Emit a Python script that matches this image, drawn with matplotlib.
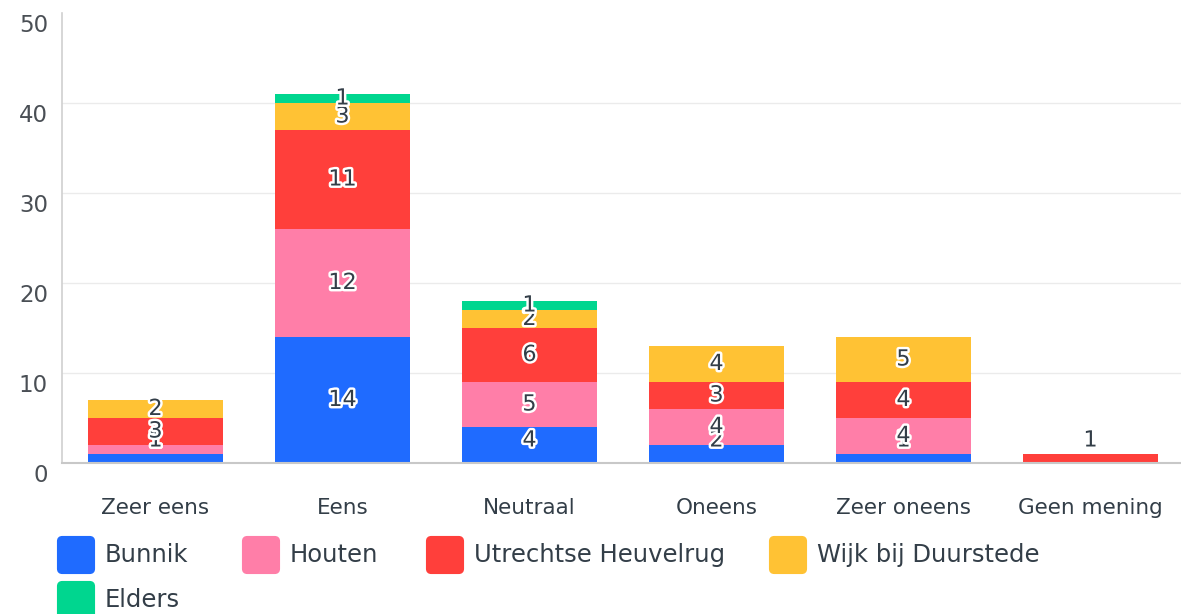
import matplotlib
matplotlib.use("Agg")
import matplotlib.pyplot as plt
import matplotlib.patheffects as pe
from matplotlib.patches import FancyBboxPatch
import numpy as np

categories = ["Zeer eens", "Eens", "Neutraal", "Oneens", "Zeer oneens", "Geen mening"]
series_names = ["Bunnik", "Houten", "Utrechtse Heuvelrug", "Wijk bij Duurstede", "Elders"]
bunnik = [1, 14, 4, 2, 1, 0]
houten = [1, 12, 5, 4, 4, 0]
utrechtse = [3, 11, 6, 3, 4, 1]
wijk = [2, 3, 2, 4, 5, 0]
elders = [0, 1, 1, 0, 0, 0]
y_ticks = [0, 10, 20, 30, 40, 50]

colors = ["#1f6bff", "#ff7ea8", "#ff3f3b", "#ffc234", "#00d68f"]
text_col = "#333e48"
plt.rcParams['font.family'] = ['DejaVu Sans']

fig = plt.figure(figsize=(11.81, 6.14), dpi=100)
W, H = 1181, 614
# plot area in pixels: left 62, right 1184, top 13 (y=50), bottom 463 (y=0)
ax = fig.add_axes([62 / W, 1 - 463 / H, (1184 - 62) / W, (463 - 13) / H])

x = np.arange(len(categories))
bottom = np.zeros(len(categories))
for vals, col in zip([bunnik, houten, utrechtse, wijk, elders], colors):
    vals = np.array(vals, dtype=float)
    ax.bar(x, vals, bottom=bottom, width=0.72, color=col, zorder=2)
    for i, v in enumerate(vals):
        if v > 0:
            yc = max(bottom[i] + v / 2, 2.5)
            ax.text(x[i], yc, f"{int(v)}", ha="center", va="center", fontsize=16,
                    color=text_col, zorder=5,
                    path_effects=[pe.withStroke(linewidth=3.5, foreground="white")])
    bottom += vals

ax.set_xlim(-0.5, len(categories) - 0.5)
ax.set_ylim(0, 50)
for t in y_ticks[1:-1]:
    ax.axhline(t, color="#ebebeb", lw=1, zorder=1)
for sp in ["top", "right"]:
    ax.spines[sp].set_visible(False)
ax.spines["left"].set_color("#d0d0d0")
ax.spines["bottom"].set_color("#c8c8c8")
ax.spines["left"].set_linewidth(1.2)
ax.spines["bottom"].set_linewidth(1.5)
ax.set_yticks([])
ax.set_xticks([])

# y tick labels sit just below their gridlines
for t in y_ticks:
    ax.annotate(str(t), xy=(0, t), xycoords=("axes fraction", "data"),
                xytext=(-14, -12), textcoords="offset pixels",
                ha="right", va="center", fontsize=16.5, color="#4a4f55")

# category labels
for i, c in enumerate(categories):
    ax.annotate(c, xy=(x[i], 0), xycoords="data", xytext=(0, -45),
                textcoords="offset pixels", ha="center", va="center",
                fontsize=15.5, color=text_col)

# legend drawn manually
legend_pos = [(58, 555), (243, 555), (427, 555), (770, 555), (58, 600)]
sq = 36
for (lx, ly), name, col in zip(legend_pos, series_names, colors):
    fig.patches.append(FancyBboxPatch(((lx + 2) / W, 1 - (ly + sq / 2 - 2) / H),
                                      (sq - 4) / W, (sq - 4) / H,
                                      boxstyle="round,pad=0.002,rounding_size=0.004",
                                      transform=fig.transFigure, color=col,
                                      mutation_aspect=W / H))
    fig.text((lx + sq + 11) / W, 1 - ly / H, name, ha="left", va="center",
             fontsize=17.5, color=text_col)

fig.savefig("out.png", dpi=100)
